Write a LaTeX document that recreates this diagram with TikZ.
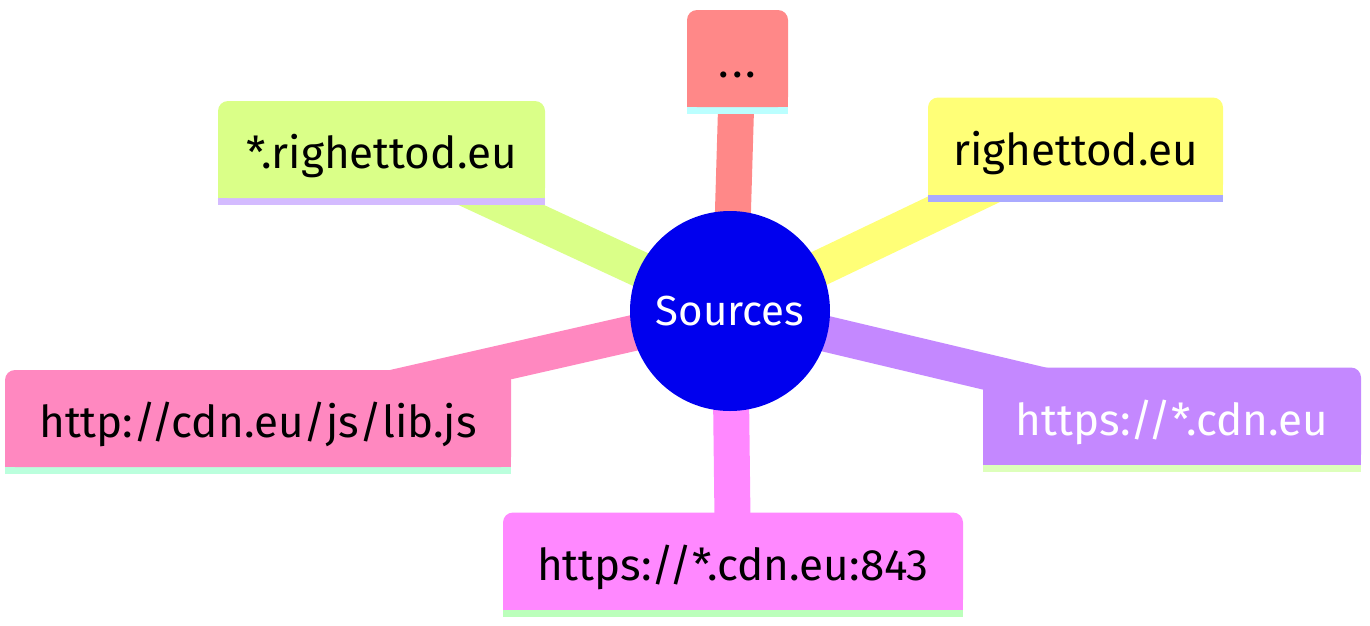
\documentclass[tikz,border=0pt]{standalone}
\usepackage{fontspec}
\setmainfont{Fira Sans}
\usetikzlibrary{backgrounds}
\definecolor{hub}{HTML}{0000EE}
\definecolor{cdots}{HTML}{FF8888}\definecolor{sdots}{HTML}{BBFFFF}
\definecolor{cwild}{HTML}{DAFF88}\definecolor{swild}{HTML}{D4BBFF}
\definecolor{cself}{HTML}{FFFF77}\definecolor{sself}{HTML}{AAAAFF}
\definecolor{clib}{HTML}{FF88C0}\definecolor{slib}{HTML}{BBFFDD}
\definecolor{ccdn}{HTML}{C488FF}\definecolor{scdn}{HTML}{DDFFBB}
\definecolor{cport}{HTML}{FF88FF}\definecolor{sport}{HTML}{BBFFBB}
\begin{document}
\begin{tikzpicture}[x=1pt,y=-1pt, every node/.style={font=\fontsize{44}{50}\selectfont},
  leaf/.style={rounded corners=10pt,inner sep=0pt,minimum height=97pt,text height=38pt,text depth=0pt}]
\useasboundingbox (0,0) rectangle (1370,625);

\node[circle,fill=hub,text=white,minimum size=200pt,inner sep=0pt,font=\fontsize{42}{48}\selectfont] (src) at (730,311) {Sources};
\node[leaf,fill=cdots,minimum width=101pt] (dots) at (737.5,58.5) {.\kern3pt.\kern3pt.};
\node[leaf,fill=cwild,minimum width=327pt] (wild) at (381.5,149.5) {*.righettod.eu};
\node[leaf,fill=cself,minimum width=295pt] (self) at (1075.5,146) {righettod.eu};
\node[leaf,fill=clib,minimum width=506pt] (lib) at (258,418.5) {http://cdn.eu/js/lib.js};
\node[leaf,fill=ccdn,minimum width=378pt,text=white] (cdn) at (1172,416) {https://*.cdn.eu};
\node[leaf,fill=cport,minimum width=460pt] (port) at (733,561) {https://*.cdn.eu:843};

\begin{scope}[on background layer]
\foreach \n/\c/\s in {dots/cdots/sdots,wild/cwild/swild,self/cself/sself,lib/clib/slib,cdn/ccdn/scdn,port/cport/sport}{
  \draw[line width=36pt,\c] (src.center)--(\n.center);
  \fill[\c] (\n.west) rectangle (\n.south east);
  \fill[\s] (\n.south west) rectangle ([yshift=-7pt]\n.south east);
}
\end{scope}

\end{tikzpicture}
\end{document}
